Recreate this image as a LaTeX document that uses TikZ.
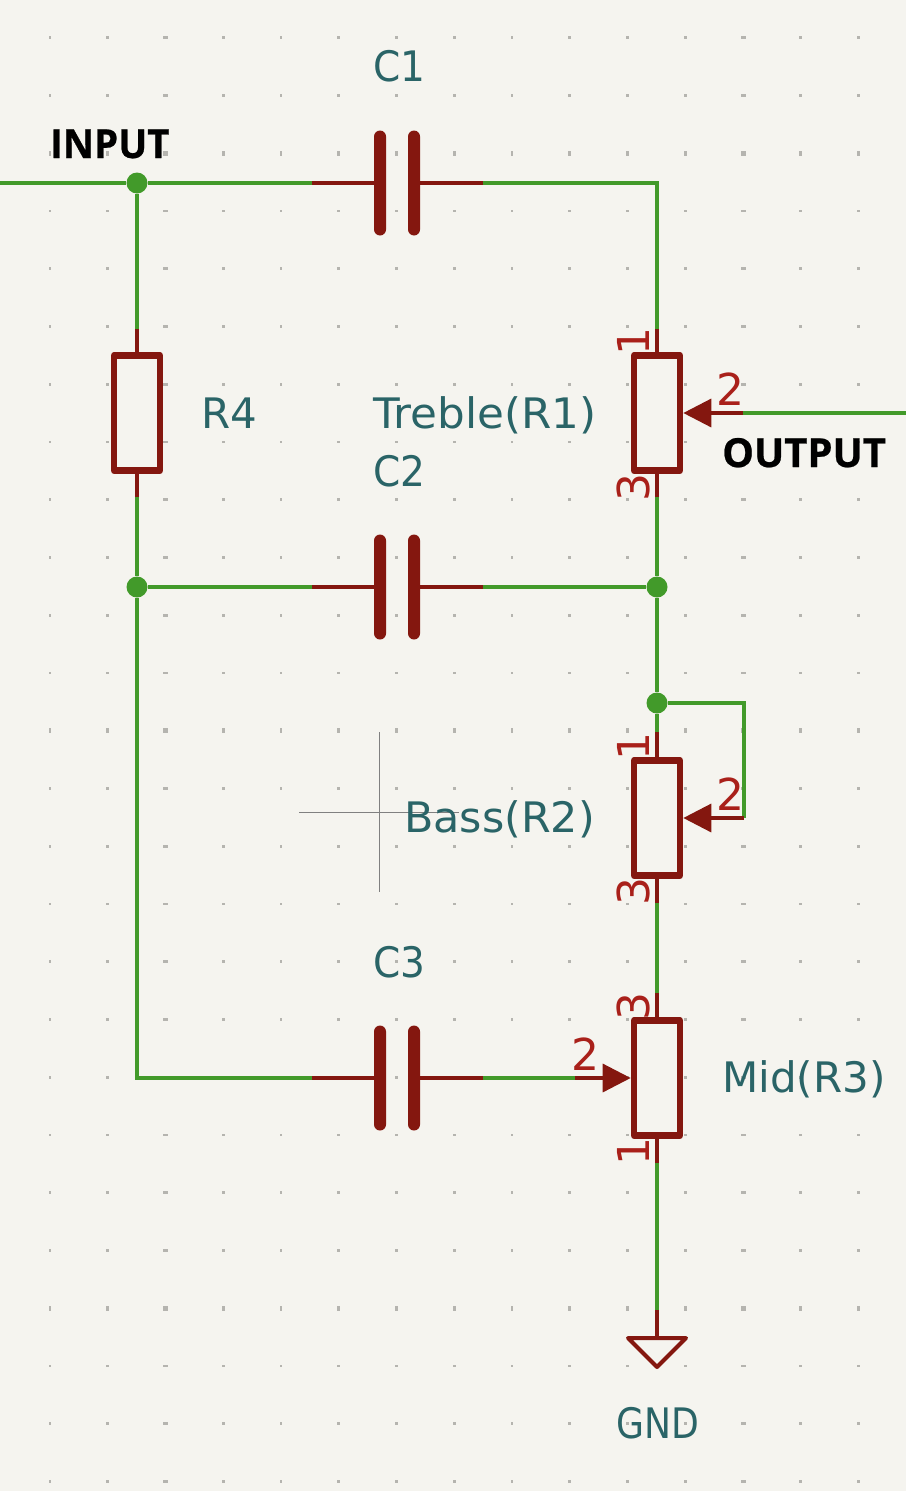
\documentclass[tikz,border=0pt]{standalone}
\usepackage{fontspec}
\usetikzlibrary{arrows.meta}
\newfontfamily\refont{DejaVu Sans}
\newfontfamily\pinfont{DejaVu Sans}
\newfontfamily\netfont[BoldFeatures={FakeBold=0.6}]{Open Sans}
\definecolor{sheet}{HTML}{F5F4EF}
\definecolor{griddot}{HTML}{B5B4AF}
\definecolor{wirecol}{HTML}{429A2A}
\definecolor{symcol}{HTML}{84170F}
\definecolor{pincol}{HTML}{A9201A}
\definecolor{refcol}{HTML}{2A6467}
\tikzset{
    wire/.style={draw=wirecol, line width=3.4pt},
    junction/.style={circle, fill=wirecol, inner sep=0pt, minimum size=21pt},
    pinline/.style={draw=symcol, line width=3.4pt},
    wiper/.style={pinline, -{Triangle[length=28pt,width=28pt,fill=symcol]}},
    body/.style={draw=symcol, line width=6.6pt, line join=round, inner sep=0pt, minimum width=46pt, minimum height=115pt},
    plate/.style={fill=symcol, rounded corners=6pt, inner sep=0pt, minimum width=12pt, minimum height=105pt},
    refname/.style={text=refcol, inner sep=0pt, anchor=base west, font=\refont\fontsize{42}{42}\selectfont},
    pinnum/.style={text=pincol, inner sep=0pt, anchor=base, font=\pinfont\fontsize{44}{44}\selectfont},
    netname/.style={text=black, inner sep=0pt, anchor=base west, font=\netfont\bfseries\fontsize{40}{40}\selectfont},
}
\begin{document}
\begin{tikzpicture}[x=1pt,y=-1pt]
    \useasboundingbox (0,0) rectangle (906,1491);
    \fill[sheet] (0,0) rectangle (906,1491);

    % grid
    \foreach \i in {0,...,14} {
        \foreach \j in {0,...,25} {
            \pgfmathsetmacro{\dw}{ifthenelse(mod(\i,10)==2,5,2.6)}
            \pgfmathsetmacro{\dh}{ifthenelse(mod(\j,10)==2,5,2.6)}
            \pgfmathsetmacro{\gx}{50+57.75*\i}
            \pgfmathsetmacro{\gy}{37.7+57.75*\j}
            \fill[griddot] ({\gx-\dw/2},{\gy-\dh/2}) rectangle ({\gx+\dw/2},{\gy+\dh/2});
        }
    }

    % end points of the wires
    \coordinate (IN) at (0,183);
    \coordinate (OUT) at (906,413);
    \coordinate (T1) at (657,183);
    \coordinate (L1) at (137,1078);
    \coordinate (W1) at (744,703);
    \coordinate (W2) at (744,818);

    \node[junction] (J1) at (137,183) {};
    \node[junction] (J2) at (137,587) {};
    \node[junction] (J3) at (657,587) {};
    \node[junction] (J4) at (657,703) {};

    % pin ends
    \coordinate (C1a) at (312,183);
    \coordinate (C1b) at (483,183);
    \coordinate (C2a) at (312,587);
    \coordinate (C2b) at (483,587);
    \coordinate (C3a) at (312,1078);
    \coordinate (C3b) at (483,1078);
    \coordinate (R4a) at (137,329);
    \coordinate (R4b) at (137,497);
    \coordinate (R1a) at (657,329);
    \coordinate (R1b) at (657,497);
    \coordinate (R1c) at (743,413);
    \coordinate (R2a) at (657,732);
    \coordinate (R2b) at (657,903);
    \coordinate (R2c) at (744,818);
    \coordinate (R3a) at (657,993);
    \coordinate (R3b) at (657,1163);
    \coordinate (R3c) at (575,1078);
    \coordinate (G1) at (657,1310);
    \coordinate (G0) at (657,1338);

    \draw[wire] (IN) -- (J1) -- (C1a);
    \draw[wire] (C1b) -- (T1) -- (R1a);
    \draw[wire] (J1) -- (R4a);
    \draw[wire] (R4b) -- (J2) -- (C2a);
    \draw[wire] (C2b) -- (J3);
    \draw[wire] (R1b) -- (J3) -- (J4) -- (R2a);
    \draw[wire] (R1c) -- (OUT);
    \draw[wire] (J4) -- (W1) -- (W2);
    \draw[wire] (R2b) -- (R3a);
    \draw[wire] (J2) -- (L1) -- (C3a);
    \draw[wire] (C3b) -- (R3c);
    \draw[wire] (R3b) -- (G1);

    % capacitors
    \node[plate] (C1l) at (380,183) {};
    \node[plate] (C1r) at (414,183) {};
    \draw[pinline] (C1a) -- (C1l);
    \draw[pinline] (C1b) -- (C1r);

    \node[plate] (C2l) at (380,587) {};
    \node[plate] (C2r) at (414,587) {};
    \draw[pinline] (C2a) -- (C2l);
    \draw[pinline] (C2b) -- (C2r);

    \node[plate] (C3l) at (380,1078) {};
    \node[plate] (C3r) at (414,1078) {};
    \draw[pinline] (C3a) -- (C3l);
    \draw[pinline] (C3b) -- (C3r);

    % resistors
    \node[body] (R4) at (137,413) {};
    \draw[pinline] (R4a) -- (R4);
    \draw[pinline] (R4b) -- (R4);

    \node[body] (R1) at (657,413) {};
    \draw[pinline] (R1a) -- (R1);
    \draw[pinline] (R1b) -- (R1);
    \draw[wiper] (R1c) -- (R1.east);

    \node[body] (R2) at (657,818) {};
    \draw[pinline] (R2a) -- (R2);
    \draw[pinline] (R2b) -- (R2);
    \draw[wiper] (R2c) -- (R2.east);

    \node[body] (R3) at (657,1078) {};
    \draw[pinline] (R3a) -- (R3);
    \draw[pinline] (R3b) -- (R3);
    \draw[wiper] (R3c) -- (R3.west);

    % ground
    \draw[pinline] (G1) -- (G0);
    \draw[symcol, line width=4pt, line join=round] (628,1338) -- (686,1338) -- (657,1367) -- cycle;

    % cross hair
    \coordinate (X1) at (379,732);
    \coordinate (X2) at (379,892);
    \coordinate (X3) at (299,812);
    \coordinate (X4) at (459,812);
    \draw[gray, line width=0.9pt] (X1) -- (X2);
    \draw[gray, line width=0.9pt] (X3) -- (X4);

    % texts
    \node[refname] (tC1) at (373,81) {\scalebox{.93}[1]{C1}};
    \node[refname] (tC2) at (373,486) {\scalebox{.93}[1]{C2}};
    \node[refname] (tC3) at (373,977) {\scalebox{.93}[1]{C3}};
    \node[refname] (tR4) at (201,428) {R4};
    \node[refname] (tR1) at (373,428) {\scalebox{1.04}[1]{Treble(R1)}};
    \node[refname] (tR2) at (404,832) {\scalebox{1.02}[1]{Bass(R2)}};
    \node[refname] (tR3) at (722,1092) {Mid(R3)};
    \node[refname] (tG) at (616,1438) {\scalebox{.86}[1]{GND}};

    \node[pinnum] (p12) at (730,405) {2};
    \node[pinnum] (p22) at (730,810) {2};
    \node[pinnum] (p32) at (585,1070) {2};
    \node[pinnum, rotate=90] (p11) at (649,341) {1};
    \node[pinnum, rotate=90] (p13) at (649,487) {3};
    \node[pinnum, rotate=90] (p21) at (649,746) {1};
    \node[pinnum, rotate=90] (p23) at (649,891) {3};
    \node[pinnum, rotate=90] (p33) at (649,1006) {3};
    \node[pinnum, rotate=90] (p31) at (649,1151) {1};

    \node[netname] (nI) at (50,158) {\scalebox{.96}[1]{INPUT}};
    \node[netname] (nO) at (722,467) {OUTPUT};
\end{tikzpicture}
\end{document}
